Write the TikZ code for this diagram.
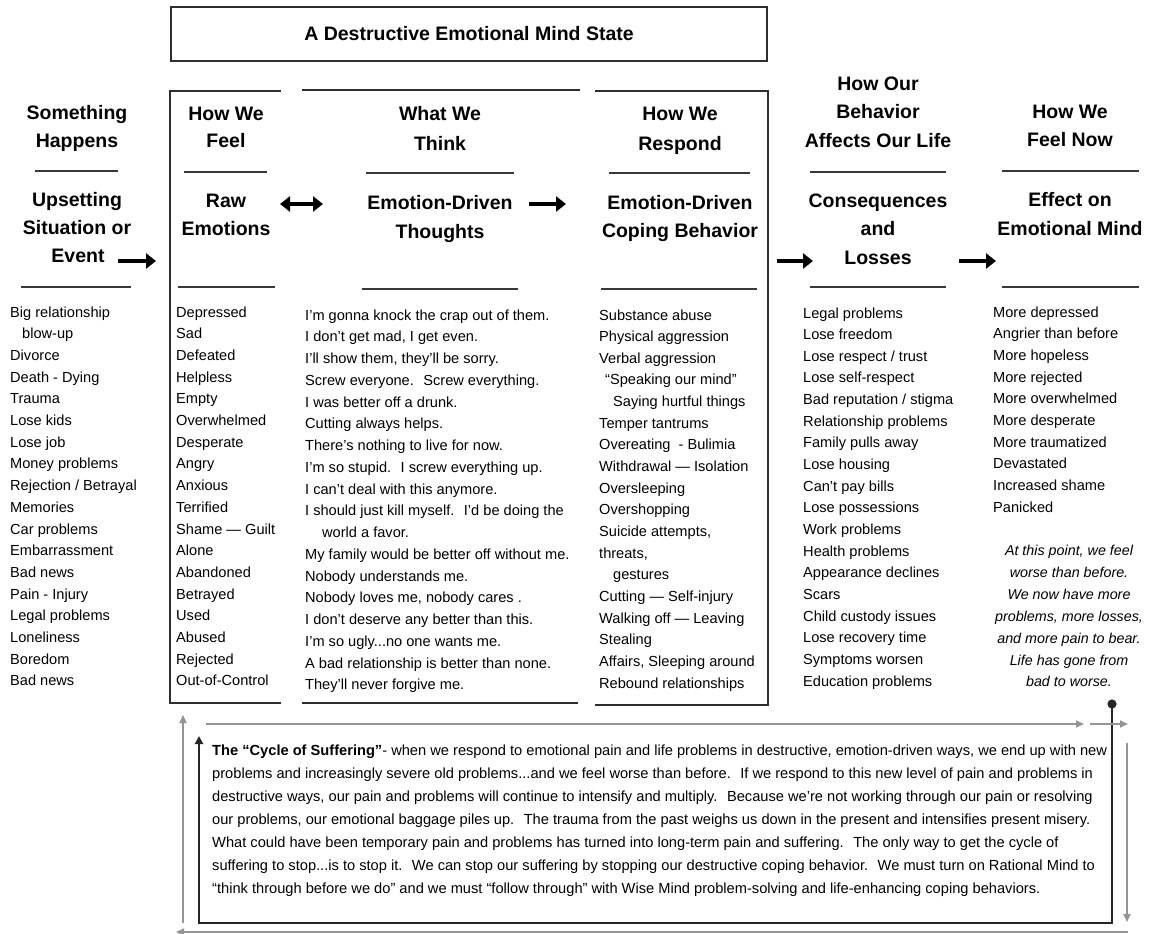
\documentclass[tikz,border=0pt]{standalone}
\usepackage{fontspec}
\setmainfont{Liberation Sans}
\usetikzlibrary{arrows.meta}
\newcommand{\threedots}{.{}.{}.}
\newcommand{\mylist}[5]{% x, first baseline, step, name, items
  \foreach \t [count=\i from 0] in {#5} {\node[item] (#4-\i) at (#1, #2 + \i*#3) {\t};}}
\begin{document}
\begin{tikzpicture}[x=1pt,y=-1pt,
  item/.style={anchor=base west,inner sep=0pt,font=\fontsize{14.6}{17}\selectfont},
  hd/.style={anchor=base,inner sep=0pt,font=\bfseries\fontsize{19.5}{23}\selectfont},
  itl/.style={anchor=base,inner sep=0pt,font=\itshape\fontsize{14.3}{17}\selectfont},
  para/.style={anchor=base west,inner sep=0pt,font=\fontsize{14.65}{17}\selectfont},
  hrule/.style={line width=2.6pt,draw=black!78},
  frame/.style={line width=2.3pt,draw=black!82},
  bigarrow/.style={line width=4.5pt,-{Triangle[length=10pt,width=15pt]}},
  bigdbl/.style={line width=4.5pt,{Triangle[length=10pt,width=15pt]}-{Triangle[length=10pt,width=15pt]}},
  grayarrow/.style={line width=1.8pt,draw=black!42,-{Triangle[length=8pt,width=7pt]}},
  darkline/.style={line width=2.4pt,draw=black!85},
]
\fill[white] (0,0) rectangle (1149,934);
\useasboundingbox (0,0) rectangle (1149,934);

% title
\node[draw=black!82,line width=2.3pt,minimum width=596pt,minimum height=54pt,inner sep=0pt,
  font=\bfseries\fontsize{19.5}{23}\selectfont] (title) at (469,34) {A Destructive Emotional Mind State};

% frames
\draw[frame] (281,91) -- (170,91) -- (170,703) -- (281,703);
\draw[frame] (302,90) -- (580,90);
\draw[frame] (302,703) -- (578,703);
\draw[frame] (595,91) -- (768,91) -- (768,705) -- (595,705);

% headings
\node[hd] (h1a) at (77,119) {Something};
\node[hd] (h1b) at (77,147) {Happens};
\node[hd] (h1c) at (77,206) {Upsetting};
\node[hd] (h1d) at (77,234) {Situation or};
\node[hd] (h1e) at (78,262) {Event};

\node[hd] (h2a) at (226,120) {How We};
\node[hd] (h2b) at (226,147) {Feel};
\node[hd] (h2c) at (226,207) {Raw};
\node[hd] (h2d) at (226,235) {Emotions};

\node[hd] (h3a) at (440,120) {What We};
\node[hd] (h3b) at (440,150) {Think};
\node[hd] (h3c) at (440,209) {Emotion-Driven};
\node[hd] (h3d) at (440,238) {Thoughts};

\node[hd] (h4a) at (680,121) {How We};
\node[hd] (h4b) at (680,150) {Respond};
\node[hd] (h4c) at (680,209) {Emotion-Driven};
\node[hd] (h4d) at (680,237) {Coping Behavior};

\node[hd] (h5a) at (878,90) {How Our};
\node[hd] (h5b) at (878,118) {Behavior};
\node[hd] (h5c) at (878,147) {Affects Our Life};
\node[hd] (h5d) at (878,207) {Consequences};
\node[hd] (h5e) at (878,235) {and};
\node[hd] (h5f) at (878,264) {Losses};

\node[hd] (h6a) at (1070,118) {How We};
\node[hd] (h6b) at (1070,146) {Feel Now};
\node[hd] (h6c) at (1070,206) {Effect on};
\node[hd] (h6d) at (1070,235) {Emotional Mind};

% heading rules
\draw[hrule] (35,171) -- (118,171);   \draw[hrule] (21,287) -- (131,287);
\draw[hrule] (184,172) -- (267,172);  \draw[hrule] (178,287) -- (275,287);
\draw[hrule] (366,173) -- (514,173);  \draw[hrule] (362,289) -- (518,289);
\draw[hrule] (609,173) -- (750,173);  \draw[hrule] (601,289) -- (757,289);
\draw[hrule] (810,172) -- (946,172);  \draw[hrule] (810,287) -- (946,287);
\draw[hrule] (1002,171) -- (1139,171);\draw[hrule] (1002,287) -- (1139,287);

% big arrows
\coordinate (a1s) at (118,261); \coordinate (a1e) at (156,261);
\draw[bigarrow] (a1s) -- (a1e);
\coordinate (a2s) at (280,204); \coordinate (a2e) at (323,204);
\draw[bigdbl] (a2s) -- (a2e);
\coordinate (a3s) at (529,204); \coordinate (a3e) at (566,204);
\draw[bigarrow] (a3s) -- (a3e);
\coordinate (a4s) at (777,261); \coordinate (a4e) at (813,261);
\draw[bigarrow] (a4s) -- (a4e);
\coordinate (a5s) at (959,261); \coordinate (a5e) at (996,261);
\draw[bigarrow] (a5s) -- (a5e);

% lists
\mylist{10}{317}{21.7}{c1}{Big relationship,{\hspace*{12pt}blow-up},Divorce,Death - Dying,Trauma,Lose kids,Lose job,Money problems,Rejection / Betrayal,Memories,Car problems,Embarrassment,Bad news,Pain - Injury,Legal problems,Loneliness,Boredom,Bad news}
\mylist{176}{317}{21.7}{c2}{Depressed,Sad,Defeated,Helpless,Empty,Overwhelmed,Desperate,Angry,Anxious,Terrified,Shame — Guilt,Alone,Abandoned,Betrayed,Used,Abused,Rejected,Out-of-Control}
\mylist{305}{320}{21.75}{c3}{{I'm gonna knock the crap out of them.},{I don't get mad, I get even.},{I'll show them, they'll be sorry.},{Screw everyone.~ Screw everything.},{I was better off a drunk.},{Cutting always helps.},{There's nothing to live for now.},{I'm so stupid.~ I screw everything up.},{I can't deal with this anymore.},{I should just kill myself.~ I'd be doing the},{\hspace*{17pt}world a favor.},{My family would be better off without me.},{Nobody understands me.},{Nobody loves me, nobody cares .},{I don't deserve any better than this.},{I'm so ugly\threedots no one wants me.},{A bad relationship is better than none.},{They'll never forgive me.}}
\mylist{599}{320}{21.65}{c4}{Substance abuse,Physical aggression,Verbal aggression,{\hspace*{6pt}“Speaking our mind”},{\hspace*{14pt}Saying hurtful things},Temper tantrums,{Overeating~ - Bulimia},Withdrawal — Isolation,Oversleeping,Overshopping,{Suicide attempts,},{threats,},{\hspace*{14pt}gestures},Cutting — Self-injury,Walking off — Leaving,Stealing,{Affairs, Sleeping around},Rebound relationships}
\mylist{803}{318}{21.65}{c5}{Legal problems,Lose freedom,Lose respect / trust,Lose self-respect,Bad reputation / stigma,Relationship problems,Family pulls away,Lose housing,Can't pay bills,Lose possessions,Work problems,Health problems,Appearance declines,Scars,Child custody issues,Lose recovery time,Symptoms worsen,Education problems}
\mylist{993}{317}{21.7}{c6}{More depressed,Angrier than before,More hopeless,More rejected,More overwhelmed,More desperate,More traumatized,Devastated,Increased shame,Panicked}

% italic note
\foreach \t [count=\i from 0] in {{At this point, we feel},{worse than before.},{We now have more},{problems, more losses,},{and more pain to bear.},{Life has gone from},{bad to worse.}}
  {\node[itl] (n-\i) at (1069, 555.5 + \i*21.9) {\t};}

% cycle connectors
\coordinate (dot) at (1112,704);
\coordinate (dkbr) at (1112,923);
\coordinate (dkbl) at (199,923);
\coordinate (dktop) at (199,736);
\fill[black!85] (dot) circle (4.6pt);
\draw[darkline,-{Triangle[length=8pt,width=8pt]}] (dot) -- (dkbr) -- (dkbl) -- (dktop);
\coordinate (g1s) at (206,724); \coordinate (g1e) at (1084,724);
\draw[grayarrow] (g1s) -- (g1e);
\coordinate (g2s) at (1090,724); \coordinate (g2e) at (1128,724);
\draw[grayarrow] (g2s) -- (g2e);
\coordinate (g3s) at (1127,743); \coordinate (g3e) at (1127,922);
\draw[grayarrow] (g3s) -- (g3e);
\coordinate (g4s) at (1128,932); \coordinate (g4e) at (176,932);
\draw[grayarrow] (g4s) -- (g4e);
\coordinate (g5s) at (183,923); \coordinate (g5e) at (183,715);
\draw[grayarrow] (g5s) -- (g5e);

% paragraph
\node[para] (p1) at (212,755) {\textbf{The “Cycle of Suffering”}- when we respond to emotional pain and life problems in destructive, emotion-driven ways, we end up with new};
\node[para] (p2) at (212,778) {problems and increasingly severe old problems...and we feel worse than before.~ If we respond to this new level of pain and problems in};
\node[para] (p3) at (212,801) {destructive ways, our pain and problems will continue to intensify and multiply.~ Because we're not working through our pain or resolving};
\node[para] (p4) at (212,824) {our problems, our emotional baggage piles up.~ The trauma from the past weighs us down in the present and intensifies present misery.};
\node[para] (p5) at (212,847) {What could have been temporary pain and problems has turned into long-term pain and suffering.~ The only way to get the cycle of};
\node[para] (p6) at (212,870) {suffering to stop...is to stop it.~ We can stop our suffering by stopping our destructive coping behavior.~ We must turn on Rational Mind to};
\node[para] (p7) at (212,893) {“think through before we do” and we must “follow through” with Wise Mind problem-solving and life-enhancing coping behaviors.};
\end{tikzpicture}
\end{document}
